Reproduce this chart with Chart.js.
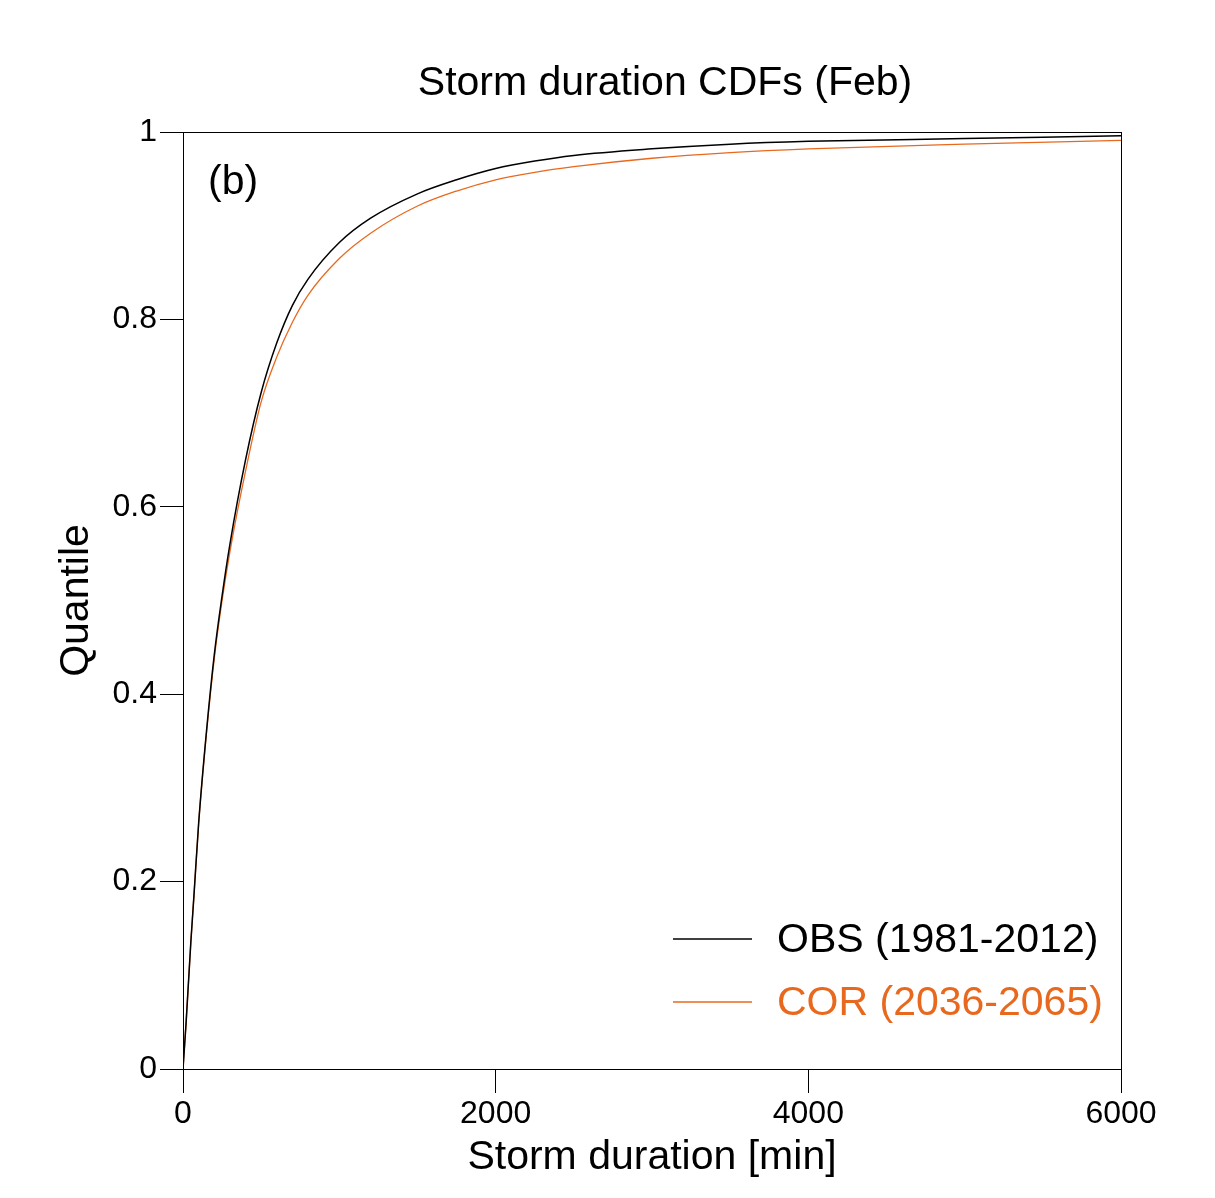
<!DOCTYPE html>
<html>
<head>
<meta charset="utf-8">
<script src="https://cdn.jsdelivr.net/npm/chart.js@4.4.1/dist/chart.umd.min.js"></script>
<style>
  html, body { margin: 0; padding: 0; background: #fff; }
  #wrap { width: 1215px; height: 1198px; }
</style>
</head>
<body>
<div id="wrap"><canvas id="cdfChart" width="1215" height="1198"></canvas></div>
<script>
const durations = [0, 20, 50, 70, 100, 150, 200, 250, 300, 400, 500, 600, 700, 800, 1000, 1200, 1500, 1750, 2000, 2250, 2500, 3000, 3500, 4000, 5000, 6000];
// quantile values, observed 1981-2012
const obsQuantile = [0, 0.05, 0.135, 0.185, 0.262, 0.36, 0.442, 0.505, 0.56, 0.65, 0.722, 0.775, 0.815, 0.843, 0.882, 0.908, 0.934, 0.949, 0.961, 0.969, 0.975, 0.982, 0.987, 0.99, 0.993, 0.996];
// quantile values, COR 2036-2065
const corQuantile = [0, 0.05, 0.135, 0.185, 0.262, 0.358, 0.438, 0.5, 0.552, 0.638, 0.712, 0.76, 0.797, 0.826, 0.865, 0.892, 0.921, 0.937, 0.949, 0.957, 0.963, 0.972, 0.978, 0.982, 0.987, 0.991];

const xTickLabels = ['0', '2000', '4000', '6000'];
const yTickLabels = ['0', '0.2', '0.4', '0.6', '0.8', '1'];

const seriesNames = ['OBS (1981-2012)', 'COR (2036-2065)'];
const seriesColors = ['#000000', '#E8691E'];

const FONT = "'Liberation Sans', Arial, sans-serif";

function toPoints(values) {
    return durations.map((d, i) => ({ x: d, y: values[i] }));
}

// frame, title, panel letter and legend inside the plot
const decorations = {
    id: 'decorations',
    afterDraw(chart) {
        const { ctx, chartArea } = chart;
        ctx.save();
        ctx.strokeStyle = '#000';
        ctx.lineWidth = 1;
        ctx.strokeRect(chartArea.left + 0.5, chartArea.top + 0.5,
            chartArea.right - chartArea.left, chartArea.bottom - chartArea.top);

        ctx.fillStyle = '#000';
        ctx.font = '41px ' + FONT;
        ctx.textAlign = 'center';
        ctx.textBaseline = 'middle';
        ctx.fillText('Storm duration CDFs (Feb)', 665, 84);

        ctx.textAlign = 'left';
        ctx.fillText('(b)', 208, 183);

        // legend
        chart.data.datasets.forEach((ds, i) => {
            const y = 939 + i * 63;
            ctx.strokeStyle = ds.borderColor;
            ctx.lineWidth = 1.3;
            ctx.beginPath();
            ctx.moveTo(673, y);
            ctx.lineTo(752, y);
            ctx.stroke();
            ctx.fillStyle = ds.borderColor;
            ctx.fillText(ds.label, 777, y + 2);
        });
        ctx.restore();
    }
};

const ctx = document.getElementById('cdfChart').getContext('2d');
new Chart(ctx, {
    type: 'scatter',
    data: {
        datasets: [
            {
                label: seriesNames[0],
                data: toPoints(obsQuantile),
                borderColor: seriesColors[0],
                borderWidth: 1.5,
                showLine: true,
                pointRadius: 0,
                cubicInterpolationMode: 'monotone'
            },
            {
                label: seriesNames[1],
                data: toPoints(corQuantile),
                borderColor: seriesColors[1],
                borderWidth: 1.3,
                showLine: true,
                pointRadius: 0,
                cubicInterpolationMode: 'monotone'
            }
        ]
    },
    options: {
        responsive: false,
        animation: false,
        devicePixelRatio: 1,
        layout: {
            padding: { left: 0, right: 94, top: 132, bottom: 0 }
        },
        scales: {
            x: {
                type: 'linear',
                min: 0,
                max: 6000,
                afterFit: scale => { scale.height = 129; },
                grid: {
                    drawOnChartArea: false,
                    tickLength: 24,
                    color: '#000'
                },
                border: { color: '#000', width: 1 },
                ticks: {
                    stepSize: 2000,
                    padding: 2,
                    maxRotation: 0,
                    color: '#000',
                    font: { family: FONT, size: 32 },
                    callback: (value) => xTickLabels[value / 2000]
                },
                title: {
                    display: true,
                    text: 'Storm duration [min]',
                    color: '#000',
                    font: { family: FONT, size: 41 },
                    padding: { top: 0, bottom: 16 }
                }
            },
            y: {
                min: 0,
                max: 1,
                afterFit: scale => { scale.width = 183; },
                grid: {
                    drawOnChartArea: false,
                    tickLength: 23,
                    color: '#000'
                },
                border: { color: '#000', width: 1 },
                ticks: {
                    stepSize: 0.2,
                    padding: 3,
                    color: '#000',
                    font: { family: FONT, size: 32 },
                    callback: (value) => yTickLabels[Math.round(value * 5)]
                },
                title: {
                    display: true,
                    text: 'Quantile',
                    color: '#000',
                    font: { family: FONT, size: 41 },
                    padding: { top: 52, bottom: 0 }
                }
            }
        },
        plugins: {
            legend: { display: false },
            tooltip: { enabled: false }
        }
    },
    plugins: [decorations]
});
</script>
</body>
</html>
